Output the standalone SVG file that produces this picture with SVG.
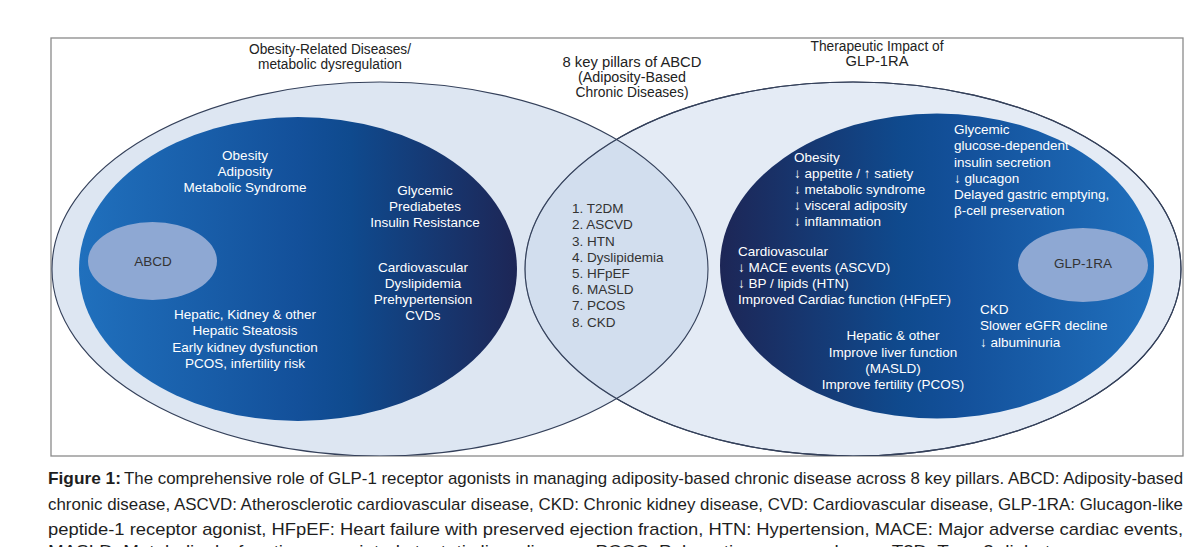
<svg xmlns="http://www.w3.org/2000/svg" width="1200" height="547" viewBox="0 0 1200 547">
<defs>
<style>
.t{font-family:"Liberation Sans",Arial,sans-serif;font-size:13.5px;}
.w{fill:#ffffff;}
.d{fill:#333333;}
.title{font-family:"Liberation Sans Narrow","Liberation Sans",Arial,sans-serif;font-size:14px;fill:#222222;text-anchor:middle;}
.cap{font-family:"Liberation Sans Narrow","Liberation Sans",Arial,sans-serif;font-size:17px;fill:#1e1e1e;}
.mid{text-anchor:middle;}
.outer{stroke:#34405a;stroke-width:1.1;}
.small{fill:#8ea8d3;}
</style>
<linearGradient id="gL" x1="0" y1="0" x2="1" y2="0">
<stop offset="0" stop-color="#2070bd"/>
<stop offset="0.5" stop-color="#13509a"/>
<stop offset="0.62" stop-color="#0f4a8e"/>
<stop offset="1" stop-color="#1d2656"/>
</linearGradient>
<linearGradient id="gR" x1="0" y1="0" x2="1" y2="0">
<stop offset="0" stop-color="#1d2656"/>
<stop offset="0.42" stop-color="#0f4a8e"/>
<stop offset="0.55" stop-color="#13509a"/>
<stop offset="1" stop-color="#2070bd"/>
</linearGradient>
<clipPath id="frameClip"><rect x="51" y="38" width="1132" height="418"/></clipPath>
</defs>

<rect x="0" y="0" width="1200" height="547" fill="#ffffff"/>

<g id="frame">
<rect x="51" y="38" width="1132" height="418" fill="#ffffff" stroke="#8a8a8a" stroke-width="1.3"/>
</g>

<g clip-path="url(#frameClip)">
<g id="right-set">
<ellipse class="outer" cx="853" cy="269" rx="328" ry="187" fill="#e4ebf5"/>
</g>
<g id="left-set">
<ellipse class="outer" cx="380" cy="269" rx="328" ry="187" fill="#c6d6ea" fill-opacity="0.6"/>
<ellipse cx="853" cy="269" rx="328" ry="187" fill="none" stroke="#34405a" stroke-width="1.1"/>
</g>
</g>

<g id="left-disease-ellipse">
<ellipse cx="298" cy="269" rx="219" ry="152" fill="url(#gL)"/>
<text class="t w mid" x="245" y="160">Obesity</text>
<text class="t w mid" x="245" y="176">Adiposity</text>
<text class="t w mid" x="245" y="192">Metabolic Syndrome</text>
<text class="t w mid" x="425" y="195">Glycemic</text>
<text class="t w mid" x="425" y="211">Prediabetes</text>
<text class="t w mid" x="425" y="227">Insulin Resistance</text>
<text class="t w mid" x="423" y="272">Cardiovascular</text>
<text class="t w mid" x="423" y="288">Dyslipidemia</text>
<text class="t w mid" x="423" y="304">Prehypertension</text>
<text class="t w mid" x="423" y="320">CVDs</text>
<text class="t w mid" x="245" y="319">Hepatic, Kidney &amp; other</text>
<text class="t w mid" x="245" y="335">Hepatic Steatosis</text>
<text class="t w mid" x="245" y="352">Early kidney dysfunction</text>
<text class="t w mid" x="245" y="368">PCOS, infertility risk</text>
</g>

<g id="abcd">
<ellipse class="small" cx="152.5" cy="261" rx="64.5" ry="39"/>
<text class="t d mid" x="153" y="266">ABCD</text>
</g>

<g id="pillars">
<text class="t d" x="572" y="213">1. T2DM</text>
<text class="t d" x="572" y="229">2. ASCVD</text>
<text class="t d" x="572" y="245.5">3. HTN</text>
<text class="t d" x="572" y="261.5">4. Dyslipidemia</text>
<text class="t d" x="572" y="278">5. HFpEF</text>
<text class="t d" x="572" y="294">6. MASLD</text>
<text class="t d" x="572" y="310">7. PCOS</text>
<text class="t d" x="572" y="326.5">8. CKD</text>
</g>

<g id="right-impact-ellipse">
<ellipse cx="937" cy="266" rx="217" ry="152.5" fill="url(#gR)"/>
<text class="t w" x="794" y="162">Obesity</text>
<text class="t w" x="794" y="178">↓ appetite / ↑ satiety</text>
<text class="t w" x="794" y="194">↓ metabolic syndrome</text>
<text class="t w" x="794" y="210">↓ visceral adiposity</text>
<text class="t w" x="794" y="226">↓ inflammation</text>
<text class="t w" x="954" y="134">Glycemic</text>
<text class="t w" x="954" y="150">glucose-dependent</text>
<text class="t w" x="954" y="166.5">insulin secretion</text>
<text class="t w" x="954" y="182.5">↓ glucagon</text>
<text class="t w" x="954" y="199">Delayed gastric emptying,</text>
<text class="t w" x="954" y="215">β-cell preservation</text>
<text class="t w" x="738" y="256">Cardiovascular</text>
<text class="t w" x="738" y="272">↓ MACE events (ASCVD)</text>
<text class="t w" x="738" y="288">↓ BP / lipids (HTN)</text>
<text class="t w" x="738" y="304">Improved Cardiac function (HFpEF)</text>
<text class="t w mid" x="893" y="340">Hepatic &amp; other</text>
<text class="t w mid" x="893" y="357">Improve liver function</text>
<text class="t w mid" x="893" y="373">(MASLD)</text>
<text class="t w mid" x="893" y="389">Improve fertility (PCOS)</text>
<text class="t w" x="980" y="313.5">CKD</text>
<text class="t w" x="980" y="330">Slower eGFR decline</text>
<text class="t w" x="980" y="346.5">↓ albuminuria</text>
</g>

<g id="glp1ra">
<ellipse class="small" cx="1083" cy="265" rx="65" ry="37"/>
<text class="t d mid" x="1083" y="268">GLP-1RA</text>
</g>

<g id="titles">
<text class="title" x="330" y="54" textLength="162" lengthAdjust="spacingAndGlyphs">Obesity-Related Diseases/</text>
<text class="title" x="330" y="69" textLength="144" lengthAdjust="spacingAndGlyphs">metabolic dysregulation</text>
<text class="title" x="632" y="67" textLength="139" lengthAdjust="spacingAndGlyphs">8 key pillars of ABCD</text>
<text class="title" x="632" y="82" textLength="108" lengthAdjust="spacingAndGlyphs">(Adiposity-Based</text>
<text class="title" x="632" y="97" textLength="113" lengthAdjust="spacingAndGlyphs">Chronic Diseases)</text>
<text class="title" x="877" y="51" textLength="133" lengthAdjust="spacingAndGlyphs">Therapeutic Impact of</text>
<text class="title" x="877" y="66" textLength="63" lengthAdjust="spacingAndGlyphs">GLP-1RA</text>
</g>

<g id="caption">
<text class="cap" x="48" y="484" font-weight="bold" textLength="73" lengthAdjust="spacingAndGlyphs">Figure 1:</text>
<text class="cap" x="124" y="484" textLength="1059" lengthAdjust="spacingAndGlyphs">The comprehensive role of GLP-1 receptor agonists in managing adiposity-based chronic disease across 8 key pillars. ABCD: Adiposity-based</text>
<text class="cap" x="48" y="509.5" textLength="1135" lengthAdjust="spacingAndGlyphs">chronic disease, ASCVD: Atherosclerotic cardiovascular disease, CKD: Chronic kidney disease, CVD: Cardiovascular disease, GLP-1RA: Glucagon-like</text>
<text class="cap" x="48" y="535" textLength="1135" lengthAdjust="spacingAndGlyphs">peptide-1 receptor agonist, HFpEF: Heart failure with preserved ejection fraction, HTN: Hypertension, MACE: Major adverse cardiac events,</text>
<text class="cap" x="48" y="557" textLength="1022" lengthAdjust="spacingAndGlyphs">MASLD: Metabolic dysfunction-associated steatotic liver disease, PCOS: Polycystic ovary syndrome, T2D: Type 2 diabetes</text>
</g>
</svg>
